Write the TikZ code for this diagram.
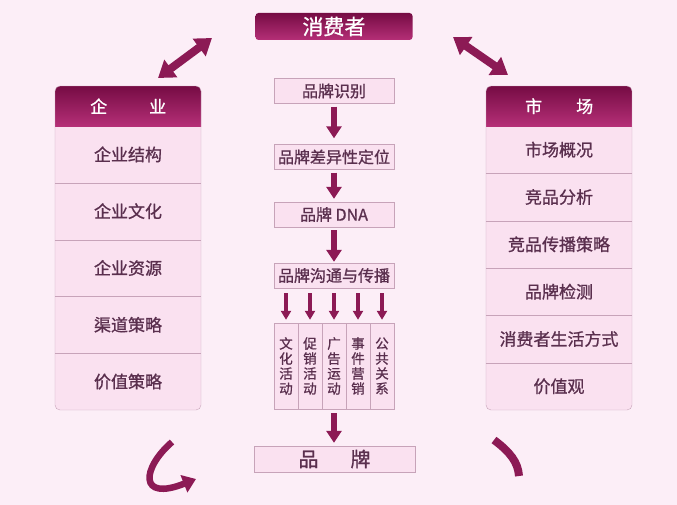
\documentclass[tikz,border=0pt]{standalone}
\usepackage{fontspec}
\setmainfont{Noto Sans CJK SC}[FakeBold=1.0,AutoFakeBold=1.0]
\usetikzlibrary{arrows.meta,positioning}

\definecolor{bgpink}{HTML}{FCEEF7}
\definecolor{cellpink}{HTML}{FAE1F0}
\definecolor{edge}{HTML}{C7A3B9}
\definecolor{ink}{HTML}{5A2F4E}
\definecolor{plum}{HTML}{8C1A55}
\definecolor{headtop}{HTML}{760C44}
\definecolor{headbot}{HTML}{B52F77}

\tikzset{
  every head/.style={top color=headtop, bottom color=headbot, text=white, inner sep=0pt},
  cell/.style={text=ink, inner sep=0pt, font=\fontsize{17}{19}\selectfont\bfseries},
  box/.style={draw=edge, fill=cellpink, text=ink, inner sep=0pt,
    minimum width=120, minimum height=25, font=\fontsize{16}{18}\selectfont\bfseries},
  act/.style={draw=edge, fill=cellpink, text=ink, inner sep=0pt, align=center,
    minimum width=24, minimum height=86, font=\fontsize{13.5}{15}\selectfont\bfseries},
  flow/.style={plum, line width=6pt, -{Triangle[length=12pt,width=15pt]}},
  thin flow/.style={plum, line width=3.5pt, -{Triangle[length=9pt,width=10pt]}},
  both/.style={plum, line width=8pt,
    {Triangle[length=16pt,width=21pt]}-{Triangle[length=16pt,width=21pt]}},
  turn/.style={plum, line width=6.5pt, -{Triangle[length=13pt,width=18pt]}},
}

\begin{document}
\begin{tikzpicture}[x=1pt, y=-1pt]
\useasboundingbox (0,0) rectangle (677,505);
\fill[bgpink] (0,0) rectangle (677,505);

\node [every head, rounded corners=3, minimum width=157, minimum height=27,
  font=\fontsize{21}{23}\selectfont] (consumer) at (334,26.5) {消费者};

% left panel
\begin{scope}
  \clip[rounded corners=5] (55,86) rectangle (201,410);
  \fill[cellpink] (55,86) rectangle (201,410);
  \node [every head, minimum width=146, minimum height=40, anchor=north west,
    font=\fontsize{17}{19}\selectfont\bfseries] (firm) at (55,86) {企\hspace{42pt}业};
\end{scope}
\foreach \t [count=\i] in {企业结构,企业文化,企业资源,渠道策略,价值策略}
  \node [cell, minimum width=146, minimum height=56.8] (firm-\i) at (128,97.6+\i*56.8) {\t};
\foreach \i in {1,...,4}
  \draw [edge] (firm-\i.south west) -- (firm-\i.south east);
\draw [edge, rounded corners=5] (55,86) rectangle (201,410);

% right panel
\begin{scope}
  \clip[rounded corners=5] (486,86) rectangle (632,410);
  \fill[cellpink] (486,86) rectangle (632,410);
  \node [every head, minimum width=146, minimum height=40, anchor=north west,
    font=\fontsize{17}{19}\selectfont\bfseries] (market) at (486,86) {市\hspace{34pt}场};
\end{scope}
\foreach \t [count=\i] in {市场概况,竞品分析,竞品传播策略,品牌检测,消费者生活方式,价值观}
  \node [cell, minimum width=146, minimum height=47.33] (market-\i) at (559,102.33+\i*47.33) {\t};
\foreach \i in {1,...,5}
  \draw [edge] (market-\i.south west) -- (market-\i.south east);
\draw [edge, rounded corners=5] (486,86) rectangle (632,410);

% brand flow
\node [box] (ident) at (334,91) {品牌识别};
\node [box] (diff) at (334,157) {品牌差异性定位};
\node [box] (dna) at (334,214.5) {品牌 DNA};
\node [box] (comm) at (334,275.5) {品牌沟通与传播};

\draw [flow, shorten <=3pt, shorten >=6pt] (ident) -- (diff);
\draw [flow, shorten <=3pt, shorten >=3pt] (diff) -- (dna);
\draw [flow, shorten <=3pt, shorten >=1pt] (dna) -- (comm);

\foreach \t [count=\i] in {文\\化\\活\\动,促\\销\\活\\动,广\\告\\运\\动,事\\件\\营\\销,公\\共\\关\\系}
  \node [act] (act-\i) at (262+\i*24,366) {\t};

\foreach \i in {1,...,5}
  \draw [thin flow, shorten <=5pt, shorten >=3pt] (comm.south -| act-\i) -- (act-\i.north);

\node [box, minimum width=161, minimum height=26,
  font=\fontsize{20}{22}\selectfont\bfseries] (brand) at (334.5,459) {品\hspace{32pt}牌};
\draw [flow, shorten <=4pt, shorten >=3pt] (act-3) -- (act-3 |- brand.north);

% arrows round the panels
\coordinate (left-low) at (158,78);
\coordinate (left-high) at (212,38);
\coordinate (right-high) at (453,37);
\coordinate (right-low) at (508,75);
\draw [both] (left-low) -- (left-high);
\draw [both] (right-high) -- (right-low);

\coordinate (turn-top) at (172,442);
\coordinate (turn-tip) at (196,479);
\draw [turn] (turn-top) .. controls (142,468) and (138,502) .. (turn-tip);

\coordinate (arc-top) at (494,440);
\coordinate (arc-end) at (519,476);
\draw [plum, line width=8pt] (arc-top) .. controls (510,452) and (518,462) .. (arc-end);
\end{tikzpicture}
\end{document}
